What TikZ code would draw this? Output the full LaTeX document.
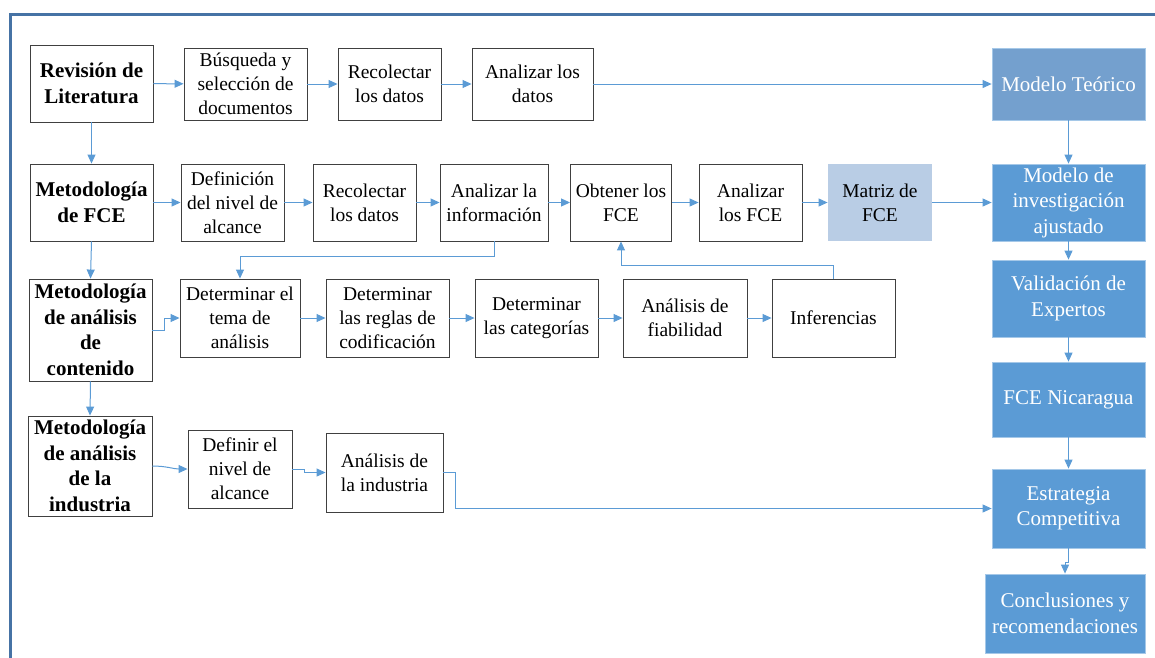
\documentclass[tikz,border=0pt]{standalone}
\usepackage{fontspec}
\setmainfont{Liberation Serif}
\usetikzlibrary{arrows.meta}
\definecolor{linea}{RGB}{91,155,213}
\definecolor{marco}{RGB}{70,115,165}
\definecolor{azul}{RGB}{91,155,213}
\definecolor{azulclaro}{RGB}{116,160,206}
\definecolor{matrizfill}{RGB}{185,205,229}
\definecolor{borde}{RGB}{64,64,64}

\begin{document}
\begin{tikzpicture}[x=1pt, y=-1pt, >={Triangle[length=9pt,width=8pt]},
  caja/.style={draw=borde, line width=0.9pt, align=center, inner sep=1pt,
    font=\fontsize{19.5}{24}\selectfont, minimum height=72pt},
  metodo/.style={caja, font=\fontsize{21}{25.5}\selectfont\bfseries, minimum width=123pt},
  resultado/.style={fill=azul, draw=azul!55!white, line width=0.8pt, text=white, align=center,
    minimum width=153pt, inner sep=1pt, font=\fontsize{21}{25.5}\selectfont},
  flecha/.style={->, color=linea, line width=1pt}]
\useasboundingbox (0,0) rectangle (1155,657);
\draw[marco, line width=3pt] (10.5,660) -- (10.5,14) -- (1160,14);

\node[metodo, minimum height=77pt] (rev) at (91.5,83.5) {Revisión de\\Literatura};
\node[caja, minimum width=123pt] (busq) at (245.5,84) {Búsqueda y\\selección de\\documentos};
\node[caja, minimum width=103pt] (recol1) at (389.5,84) {Recolectar\\los datos};
\node[caja, minimum width=121pt] (anal1) at (532.5,84) {Analizar los\\datos};
\node[resultado, fill=azulclaro, minimum height=72pt] (teor) at (1068.5,84) {Modelo Teórico};

\node[metodo, minimum height=77pt] (metfce) at (91.5,202.5) {Metodología\\de FCE};
\node[caja, minimum width=103pt, minimum height=77pt] (defin) at (232.5,202.5) {Definición\\del nivel de\\alcance};
\node[caja, minimum width=103pt, minimum height=77pt] (recol2) at (364.5,202.5) {Recolectar\\los datos};
\node[caja, minimum width=108pt, minimum height=77pt] (analinfo) at (494,202.5) {Analizar la\\información};
\node[caja, minimum width=101pt, minimum height=77pt] (obten) at (621,202.5) {Obtener los\\FCE};
\node[caja, minimum width=103pt, minimum height=77pt] (analfce) at (750.5,202.5) {Analizar\\los FCE};
\node[caja, draw=none, fill=matrizfill, minimum width=104pt, minimum height=77pt] (matriz) at (880,202.5) {Matriz de\\FCE};
\node[resultado, minimum height=77pt] (ajust) at (1068.5,202.5) {Modelo de\\investigación\\ajustado};

\node[metodo, minimum height=102pt] (metcont) at (90.5,330) {Metodología\\de análisis\\de\\contenido};
\node[caja, minimum width=120pt, minimum height=78pt] (tema) at (240,318) {Determinar el\\tema de\\análisis};
\node[caja, minimum width=123pt, minimum height=78pt] (reglas) at (387.5,318) {Determinar\\las reglas de\\codificación};
\node[caja, minimum width=123pt, minimum height=78pt] (categ) at (536.5,318) {Determinar\\las categorías};
\node[caja, minimum width=124pt, minimum height=78pt] (fiab) at (685,318) {Análisis de\\fiabilidad};
\node[caja, minimum width=123pt, minimum height=78pt] (infer) at (833.5,318) {Inferencias};
\node[resultado, minimum height=77pt] (valid) at (1068.5,298.5) {Validación de\\Expertos};

\node[metodo, minimum width=124pt, minimum height=100pt] (metind) at (90,466) {Metodología\\de análisis\\de la\\industria};
\node[caja, minimum width=104pt, minimum height=78pt] (defniv) at (240,469) {Definir el\\nivel de\\alcance};
\node[caja, minimum width=117pt, minimum height=79pt] (anind) at (384.5,472.5) {Análisis de\\la industria};
\node[resultado, minimum height=75pt] (fcenic) at (1068.5,399.5) {FCE Nicaragua};
\node[resultado, minimum height=79pt] (estrat) at (1068.5,508.5) {Estrategia\\Competitiva};
\node[resultado, minimum width=160pt, minimum height=79pt] (concl) at (1065,613.5) {Conclusiones y\\recomendaciones};

\path[flecha] (rev) edge (busq)
    (busq) edge (recol1)
    (recol1) edge (anal1)
    (anal1.east) edge (teor.west |- anal1.east)
    (rev) edge (metfce)
    (metfce) edge (defin)
    (defin) edge (recol2)
    (recol2) edge (analinfo)
    (analinfo) edge (obten)
    (obten) edge (analfce)
    (analfce) edge (matriz)
    (matriz) edge (ajust)
    (metfce.south) edge (metcont.north)
    (metcont.south) edge (metind.north)
    (tema) edge (reglas)
    (reglas) edge (categ)
    (categ) edge (fiab)
    (fiab) edge (infer)
    (teor) edge (ajust)
    (ajust) edge (valid)
    (valid) edge (fcenic)
    (fcenic) edge (estrat);

\draw[flecha] (analinfo.south) -- ++(0,15) -| (tema.north);
\draw[flecha] (infer.north) -- ++(0,-13) -| (obten.south);
\draw[flecha] (metcont.east) -- ++(12,0) |- (tema.west);
\draw[flecha] (metind.east) to[out=0, in=180] (defniv.west);
\draw[flecha] (defniv.east) -- ++(12,0) |- (anind.west);
\draw[flecha] (anind.east) -- ++(12,0) |- (estrat.west);
\draw[flecha] (estrat.south) -- ++(0,14) -| (concl.north);
\end{tikzpicture}
\end{document}
